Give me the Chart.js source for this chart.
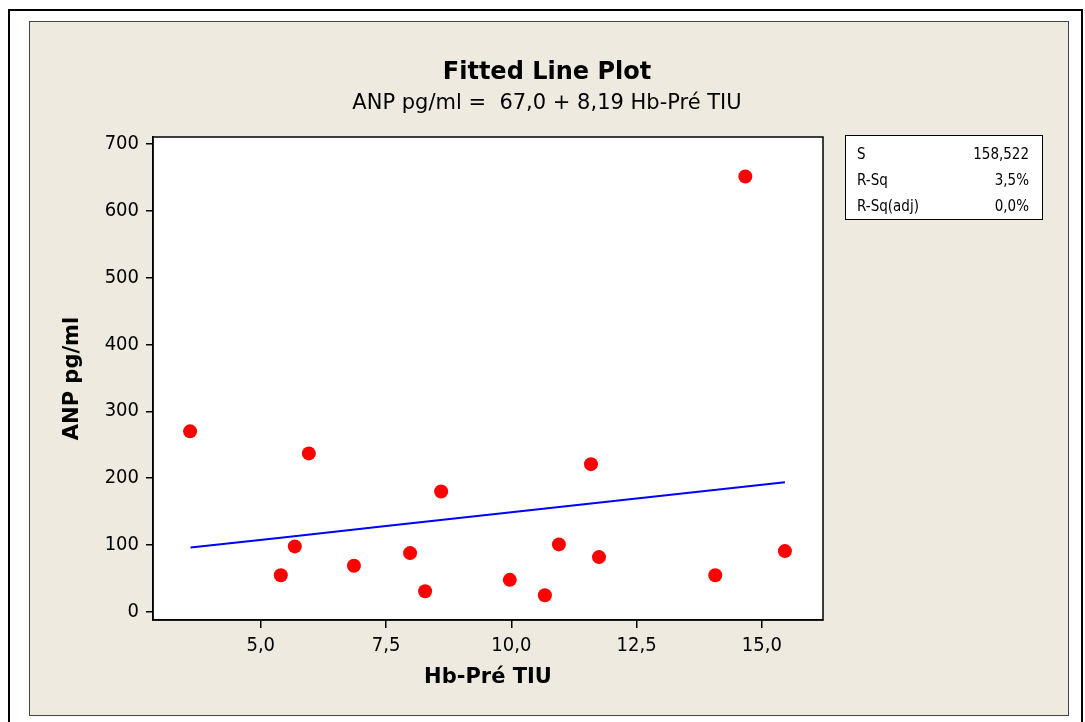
<!DOCTYPE html>
<html>
<head>
<title>Fitted Line Plot</title>
<script src="https://cdn.jsdelivr.net/npm/chart.js"></script>
<style>body { margin: 0; background: #fff; }</style>
</head>
<body>
<canvas id="fitChart" width="1085" height="722"></canvas>
<script>
const hbValues  = [3.59, 5.40, 5.68, 5.96, 6.86, 7.98, 8.28, 8.60, 9.97, 10.67, 10.95, 11.59, 11.75, 14.07, 14.67, 15.46];
const anpValues = [270, 55, 98, 237, 69, 88, 31, 180, 48, 25, 101, 221, 82, 55, 651, 91];

// fitted line as drawn
const fitX = [3.6, 5.4, 7.5, 10.0, 12.5, 15.46];
const fitY = [96.5, 111, 128.5, 149, 169.5, 194];

const xTicks = [5, 7.5, 10, 12.5, 15];
const yTicks = [0, 100, 200, 300, 400, 500, 600, 700];

const statLabels = ['S', 'R-Sq', 'R-Sq(adj)'];
const statValues = ['158,522', '3,5%', '0,0%'];

const FONT = '"DejaVu Sans Condensed", "DejaVu Sans", sans-serif';
const WIDE = '"DejaVu Sans", sans-serif';

const framePlugin = {
    id: 'frame',
    beforeDraw(chart) {
        const ctx = chart.ctx;
        const a = chart.chartArea;
        ctx.save();
        ctx.fillStyle = '#fff';
        ctx.fillRect(0, 0, chart.width, chart.height);
        ctx.strokeStyle = '#000';
        ctx.lineWidth = 2;
        ctx.strokeRect(9, 10, 1073, 720);
        ctx.fillStyle = '#EEEAE0';
        ctx.fillRect(29, 21, 1039, 694);
        ctx.strokeStyle = '#444';
        ctx.lineWidth = 1;
        ctx.strokeRect(29.5, 21.5, 1039, 694);
        ctx.fillStyle = '#fff';
        ctx.fillRect(a.left, a.top, a.right - a.left, a.bottom - a.top);
        ctx.restore();
    },
    afterDraw(chart) {
        const ctx = chart.ctx;
        const a = chart.chartArea;
        ctx.save();
        ctx.strokeStyle = '#000';
        ctx.lineWidth = 1.5;
        ctx.strokeRect(a.left, a.top, a.right - a.left, a.bottom - a.top);

        // titles
        ctx.fillStyle = '#000';
        ctx.textAlign = 'center';
        ctx.textBaseline = 'middle';
        ctx.font = 'bold 24px ' + WIDE;
        ctx.fillText('Fitted Line Plot', 547, 73);
        ctx.font = '21px ' + WIDE;
        ctx.fillText('ANP pg/ml =  67,0 + 8,19 Hb-Pré TIU', 547, 104);

        // stats box
        ctx.fillStyle = '#fff';
        ctx.fillRect(845, 135, 197, 84);
        ctx.lineWidth = 1;
        ctx.strokeStyle = '#000';
        ctx.strokeRect(845.5, 135.5, 197, 84);
        ctx.fillStyle = '#000';
        ctx.font = '15px ' + FONT;
        const rowsY = [155, 181, 207];
        statLabels.forEach((lab, i) => {
            ctx.textAlign = 'left';
            ctx.fillText(lab, 857, rowsY[i]);
            ctx.textAlign = 'right';
            ctx.fillText(statValues[i], 1029, rowsY[i]);
        });
        ctx.restore();
    }
};

const fmtComma = v => v.toFixed(1).replace('.', ',');

new Chart(document.getElementById('fitChart'), {
    type: 'scatter',
    data: {
        datasets: [{
            label: 'ANP pg/ml',
            data: hbValues.map((x, i) => ({x: x, y: anpValues[i]})),
            backgroundColor: '#FF0000',
            borderWidth: 0,
            pointRadius: 7,
            pointHoverRadius: 7
        }, {
            type: 'line',
            label: 'Fit',
            data: fitX.map((x, i) => ({x: x, y: fitY[i]})),
            borderColor: '#0000FF',
            borderWidth: 2,
            pointRadius: 0,
            fill: false,
            tension: 0
        }]
    },
    options: {
        responsive: false,
        animation: false,
        layout: { padding: { left: 0, top: 137, right: 262, bottom: 0 } },
        plugins: {
            legend: { display: false },
            tooltip: { enabled: false }
        },
        scales: {
            x: {
                type: 'linear',
                min: 2.85,
                max: 16.22,
                afterBuildTicks: s => { s.ticks = xTicks.map(v => ({value: v})); },
                afterFit: s => { s.height = 102; },
                grid: { drawOnChartArea: false, drawTicks: true, tickLength: 8, color: '#000', lineWidth: 1.5 },
                border: { display: true, color: '#000', width: 1.5 },
                ticks: {
                    color: '#000',
                    padding: 6,
                    font: { family: FONT, size: 20 },
                    callback: v => fmtComma(v)
                },
                title: {
                    display: true,
                    text: 'Hb-Pré TIU',
                    color: '#000',
                    font: { family: WIDE, size: 21, weight: 'bold' },
                    padding: { top: 0, bottom: 32 }
                }
            },
            y: {
                type: 'linear',
                min: -12,
                max: 710,
                afterBuildTicks: s => { s.ticks = yTicks.map(v => ({value: v})); },
                afterFit: s => { s.width = 153; },
                grid: { drawOnChartArea: false, drawTicks: true, tickLength: 7, color: '#000', lineWidth: 1.5 },
                border: { display: true, color: '#000', width: 1.5 },
                ticks: {
                    color: '#000',
                    padding: 7,
                    font: { family: FONT, size: 20 },
                    callback: v => String(v)
                },
                title: {
                    display: true,
                    text: 'ANP pg/ml',
                    color: '#000',
                    font: { family: WIDE, size: 21, weight: 'bold' },
                    padding: { top: 60, bottom: 0 }
                }
            }
        }
    },
    plugins: [framePlugin]
});
</script>
</body>
</html>
